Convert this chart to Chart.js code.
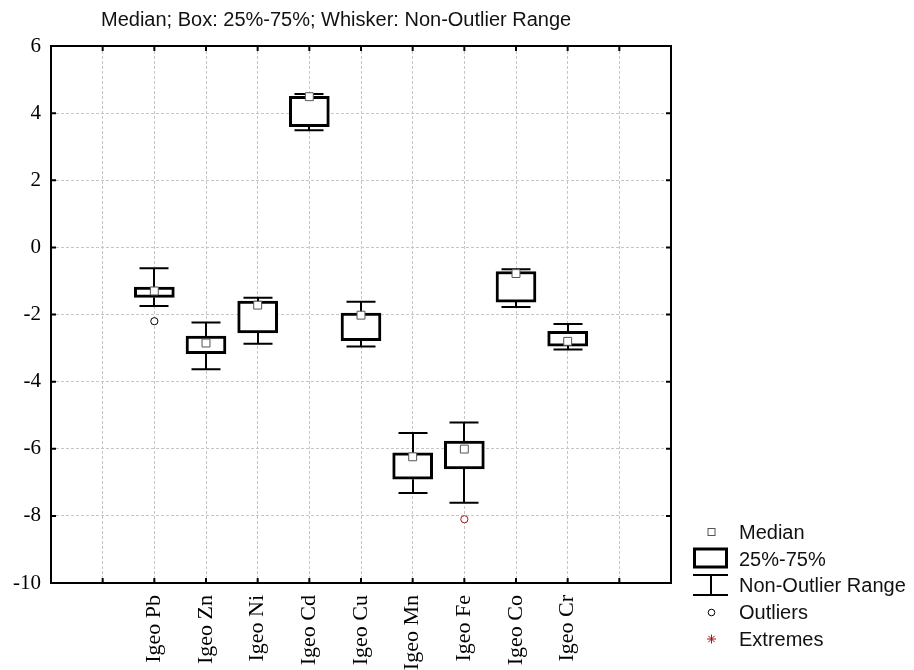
<!DOCTYPE html>
<html>
<head>
<meta charset="utf-8">
<script src="https://cdn.jsdelivr.net/npm/chart.js@4.4.1/dist/chart.umd.min.js"></script>
<style>
  html, body { margin: 0; padding: 0; background: #fff; }
  canvas { display: block; }
</style>
</head>
<body>
<canvas id="chart" width="914" height="670"></canvas>
<script>
// ---- data ----
const categories   = ['Igeo Pb', 'Igeo Zn', 'Igeo Ni', 'Igeo Cd', 'Igeo Cu', 'Igeo Mn', 'Igeo Fe', 'Igeo Co', 'Igeo Cr'];
const medians      = [-1.30, -2.85, -1.72, 4.49, -2.02, -6.24, -6.01, -0.78, -2.80];
const q1           = [-1.49, -3.17, -2.55, 3.60, -2.78, -6.91, -6.60, -1.63, -2.94];
const q3           = [-1.18, -2.64, -1.60, 4.50, -1.96, -6.12, -5.77, -0.72, -2.50];
const whiskerLow   = [-1.75, -3.63, -2.87, 3.49, -2.95, -7.32, -7.61, -1.78, -3.04];
const whiskerHigh  = [-0.62, -2.24, -1.50, 4.57, -1.62, -5.53, -5.22, -0.65, -2.28];
const outlierCats  = ['Igeo Pb', 'Igeo Fe'];
const outlierVals  = [-2.20, -8.10];
const yTickValues  = [6, 4, 2, 0, -2, -4, -6, -8, -10];
const titleText    = 'Median; Box: 25%-75%; Whisker: Non-Outlier Range';
const legendLabels = ['Median', '25%-75%', 'Non-Outlier Range', 'Outliers', 'Extremes'];

// two empty slots on each side of the groups
const axisLabels = ['', '', ...categories, '', ''];
const slot = name => axisLabels.indexOf(name);
const spread = values => axisLabels.map(l => {
  const i = categories.indexOf(l);
  return i < 0 ? null : values[i];
});
const boxData = axisLabels.map(l => {
  const i = categories.indexOf(l);
  return i < 0 ? null : [q1[i], q3[i]];
});
const outlierData = axisLabels.map(l => {
  const i = outlierCats.indexOf(l);
  return i < 0 ? null : outlierVals[i];
});
const outlierColors = axisLabels.map(l => l === 'Igeo Fe' ? '#a31515' : '#000000');

const SERIF = '"Liberation Serif", "Times New Roman", serif';
const SANS = '"Liberation Sans", Arial, sans-serif';

// whiskers under the boxes, frame, inner ticks, title and legend on top
const boxPlotExtras = {
  id: 'boxPlotExtras',
  beforeDatasetsDraw(chart) {
    const { ctx, scales: { x, y } } = chart;
    ctx.save();
    ctx.strokeStyle = '#000';
    ctx.lineWidth = 2;
    categories.forEach((c, i) => {
      const px = Math.round(x.getPixelForValue(slot(c)));
      const yHi = y.getPixelForValue(whiskerHigh[i]);
      const yLo = y.getPixelForValue(whiskerLow[i]);
      const yQ3 = y.getPixelForValue(q3[i]);
      const yQ1 = y.getPixelForValue(q1[i]);
      ctx.beginPath();
      ctx.moveTo(px, yQ3); ctx.lineTo(px, yHi);
      ctx.moveTo(px, yQ1); ctx.lineTo(px, yLo);
      ctx.moveTo(px - 14.5, yHi); ctx.lineTo(px + 14.5, yHi);
      ctx.moveTo(px - 14.5, yLo); ctx.lineTo(px + 14.5, yLo);
      ctx.stroke();
    });
    ctx.restore();
  },
  afterDraw(chart) {
    const { ctx, chartArea: a, scales: { x, y } } = chart;
    ctx.save();
    // frame
    ctx.strokeStyle = '#000';
    ctx.lineWidth = 2;
    ctx.strokeRect(a.left, a.top, a.right - a.left, a.bottom - a.top);
    // inner tick marks
    ctx.beginPath();
    yTickValues.forEach(v => {
      const py = y.getPixelForValue(v);
      ctx.moveTo(a.left, py); ctx.lineTo(a.left + 5, py);
      ctx.moveTo(a.right, py); ctx.lineTo(a.right - 5, py);
    });
    axisLabels.forEach((_, i) => {
      const px = x.getPixelForValue(i);
      ctx.moveTo(px, a.bottom); ctx.lineTo(px, a.bottom - 5);
      ctx.moveTo(px, a.top); ctx.lineTo(px, a.top + 5);
    });
    ctx.stroke();

    // title
    ctx.fillStyle = '#111';
    ctx.font = '20px ' + SANS;
    ctx.textAlign = 'left';
    ctx.textBaseline = 'alphabetic';
    ctx.fillText(titleText, 101, 26);

    // legend
    const sx = 711.5, tx = 739;
    const base = [539, 565.5, 591.5, 619, 645.5];
    legendLabels.forEach((t, i) => ctx.fillText(t, tx, base[i]));

    // median marker
    ctx.fillStyle = '#fff';
    ctx.strokeStyle = '#555';
    ctx.lineWidth = 1;
    ctx.fillRect(708, 528.5, 7, 7);
    ctx.strokeRect(708, 528.5, 7, 7);
    // box marker
    ctx.strokeStyle = '#000';
    ctx.lineWidth = 3;
    ctx.strokeRect(694.5, 549, 32, 18);
    // whisker marker
    ctx.lineWidth = 2;
    ctx.beginPath();
    ctx.moveTo(693, 575); ctx.lineTo(728, 575);
    ctx.moveTo(693, 595); ctx.lineTo(728, 595);
    ctx.moveTo(711, 575); ctx.lineTo(711, 595);
    ctx.stroke();
    // outlier marker
    ctx.lineWidth = 1;
    ctx.beginPath();
    ctx.arc(sx, 612.5, 3.3, 0, Math.PI * 2);
    ctx.stroke();
    // extreme marker
    ctx.strokeStyle = '#a31515';
    ctx.beginPath();
    const ex = sx, ey = 639, r = 4.5, d = r * Math.SQRT1_2;
    ctx.moveTo(ex - r, ey); ctx.lineTo(ex + r, ey);
    ctx.moveTo(ex, ey - r); ctx.lineTo(ex, ey + r);
    ctx.moveTo(ex - d, ey - d); ctx.lineTo(ex + d, ey + d);
    ctx.moveTo(ex - d, ey + d); ctx.lineTo(ex + d, ey - d);
    ctx.stroke();
    ctx.restore();
  }
};

new Chart(document.getElementById('chart'), {
  type: 'bar',
  data: {
    labels: axisLabels,
    datasets: [
      {
        type: 'line',
        label: 'Median',
        data: spread(medians),
        showLine: false,
        pointStyle: 'rect',
        pointRadius: 5.6,
        pointBackgroundColor: '#fff',
        pointBorderColor: '#555',
        pointBorderWidth: 1
      },
      {
        type: 'line',
        label: 'Outliers',
        data: outlierData,
        showLine: false,
        pointStyle: 'circle',
        pointRadius: 3.6,
        pointBackgroundColor: '#fff',
        pointBorderColor: outlierColors,
        pointBorderWidth: 1
      },
      {
        label: '25%-75%',
        data: boxData,
        backgroundColor: '#fff',
        borderColor: '#000',
        borderWidth: 3,
        borderSkipped: false,
        barThickness: 40
      }
    ]
  },
  options: {
    responsive: false,
    animation: false,
    devicePixelRatio: 1,
    events: [],
    layout: { padding: { top: 46, right: 243, left: 0, bottom: 0 } },
    plugins: {
      legend: { display: false },
      title: { display: false },
      tooltip: { enabled: false }
    },
    scales: {
      x: {
        type: 'category',
        offset: false,
        grid: { offset: false, color: '#c6c6c6', lineWidth: 1, drawTicks: false },
        border: { display: false, dash: [3, 2] },
        ticks: {
          autoSkip: false,
          minRotation: 90,
          maxRotation: 90,
          padding: 12,
          color: '#000',
          font: { family: SERIF, size: 22 }
        },
        afterFit(scale) { scale.height = 87; }
      },
      y: {
        min: -10,
        max: 6,
        grid: { color: '#c6c6c6', lineWidth: 1, drawTicks: false },
        border: { display: false, dash: [3, 2] },
        afterBuildTicks(scale) { scale.ticks = yTickValues.map(v => ({ value: v })); },
        ticks: {
          padding: 10,
          color: '#000',
          font: { family: SERIF, size: 21 },
          callback: v => String(v)
        },
        afterFit(scale) { scale.width = 51; }
      }
    }
  },
  plugins: [boxPlotExtras]
});
</script>
</body>
</html>
